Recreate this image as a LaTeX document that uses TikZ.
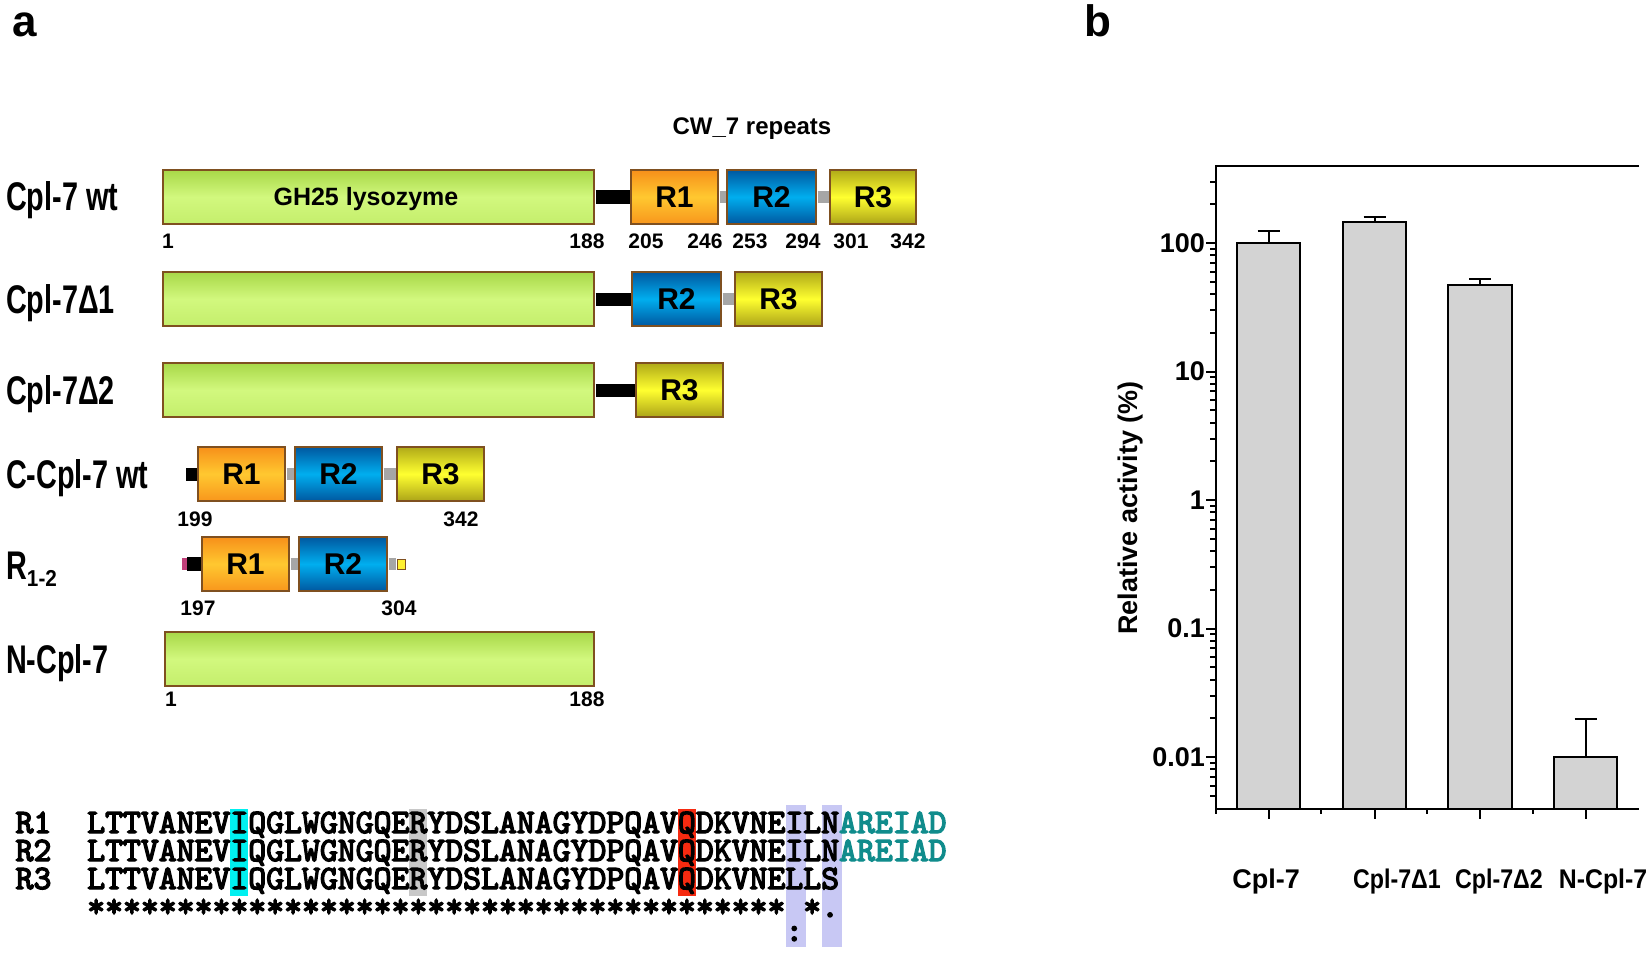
\documentclass[tikz,border=0pt]{standalone}
\usepackage{fontspec}
\setmainfont{Liberation Sans}
\newfontfamily\seqfont[Extension=.otf, FakeBold=4]{lmmono10-regular}
\usepackage{graphicx}
\definecolor{brd}{HTML}{7F5020}
\definecolor{gT}{HTML}{A8D848}
\definecolor{gM}{HTML}{D2F87E}
\definecolor{gB}{HTML}{C4EE6C}
\definecolor{oT}{HTML}{F7901A}
\definecolor{oM}{HTML}{FFC830}
\definecolor{oB}{HTML}{F8961C}
\definecolor{bT}{HTML}{0058A0}
\definecolor{bM}{HTML}{00AEEF}
\definecolor{bB}{HTML}{0058A0}
\definecolor{yT}{HTML}{B0AA18}
\definecolor{yM}{HTML}{FFFF30}
\definecolor{yB}{HTML}{ACA418}
\definecolor{lnkgray}{HTML}{A6A6A6}
\definecolor{pinkc}{HTML}{C0407A}
\definecolor{hcyan}{HTML}{00F0F0}
\definecolor{hgray}{HTML}{C8C8C8}
\definecolor{hred}{HTML}{F62A10}
\definecolor{hlav}{HTML}{C8C8F4}
\definecolor{tealc}{HTML}{108C8C}
\definecolor{barg}{HTML}{D3D3D3}
\definecolor{sqy}{HTML}{FFF030}
\newcommand\lblfont{\fontsize{40}{40}\selectfont\bfseries}
\newcommand\lbl[1]{\scalebox{0.72}[1]{\lblfont #1}}
\newcommand\dbox[6]{\node[#1, minimum width={#4-#3}] (#2) at ({(#3+#4)/2},#5) {#6};}
\begin{document}
\begin{tikzpicture}[x=1pt,y=-1pt,
  dom/.style={draw=brd, line width=1.5pt, minimum height=54, inner sep=0, shading=axis, font=\fontsize{30}{30}\selectfont\bfseries},
  gbox/.style={dom, top color=gT, bottom color=gB, middle color=gM},
  obox/.style={dom, top color=oT, bottom color=oB, middle color=oM},
  bbox/.style={dom, top color=bT, bottom color=bB, middle color=bM},
  ybox/.style={dom, top color=yT, bottom color=yB, middle color=yM},
  blk/.style={line width=13pt, black, shorten <=0.75pt, shorten >=0.75pt},
  gry/.style={line width=12pt, lnkgray, shorten <=0.75pt, shorten >=0.75pt},
  num/.style={font=\fontsize{21}{21}\selectfont\bfseries, inner sep=0, anchor=base},
  lab/.style={inner sep=0, anchor=base west},
  seq/.style={font=\fontsize{34.1}{34.1}\selectfont\seqfont, inner sep=0, anchor=base west},
  ax/.style={line width=2.5pt, line join=miter},
  barst/.style={draw=black, line width=2pt, fill=barg},
  err/.style={line width=2pt},
  tl/.style={font=\fontsize{27}{27}\selectfont\bfseries, inner sep=0, anchor=east},
  xl/.style={font=\fontsize{27}{27}\selectfont\bfseries, inner sep=0, anchor=base},
]
\useasboundingbox (0,0) rectangle (1650,955);
% panel labels
\node[font=\fontsize{44}{44}\selectfont\bfseries, inner sep=0, anchor=base west] (pa) at (12,37) {a};
\node[font=\fontsize{44}{44}\selectfont\bfseries, inner sep=0, anchor=base west] (pb) at (1084,37) {b};
% ---------- row 1
\node[font=\fontsize{24}{24}\selectfont\bfseries, inner sep=0, anchor=base] (cw) at (752,135) {CW\_7 repeats};
\dbox{gbox}{w1g}{163}{594}{197}{}
\dbox{obox}{w1a}{631}{718}{197}{R1}
\dbox{bbox}{w1b}{727}{816}{197}{R2}
\dbox{ybox}{w1c}{830}{916}{197}{R3}
\draw[blk] (w1g.east) -- (w1a.west);
\draw[gry] (w1a.east) -- (w1b.west);
\draw[gry] (w1b.east) -- (w1c.west);
\node[font=\fontsize{25}{25}\selectfont\bfseries, inner sep=0, anchor=base] (ghl) at (366,205) {GH25 lysozyme};
\node[num] (n11) at (168,248) {1};
\node[num] (n12) at (587,248) {188};
\node[num] (n13) at (646,248) {205};
\node[num] (n14) at (705,248) {246};
\node[num] (n15) at (750,248) {253};
\node[num] (n16) at (803,248) {294};
\node[num] (n17) at (851,248) {301};
\node[num] (n18) at (908,248) {342};
\node[lab] (l1) at (6,211) {\lbl{Cpl-7 wt}};
% ---------- row 2
\dbox{gbox}{d1g}{163}{594}{299}{}
\dbox{bbox}{d1b}{632}{721}{299}{R2}
\dbox{ybox}{d1c}{735}{822}{299}{R3}
\draw[blk] (d1g.east) -- (d1b.west);
\draw[gry] (d1b.east) -- (d1c.west);
\node[lab] (l2) at (6,313) {\lbl{Cpl-7Δ1}};
% ---------- row 3
\dbox{gbox}{d2g}{163}{594}{390}{}
\dbox{ybox}{d2c}{636}{723}{390}{R3}
\draw[blk] (d2g.east) -- (d2c.west);
\node[lab] (l3) at (6,404) {\lbl{Cpl-7Δ2}};
% ---------- row 4
\coordinate (c4s) at (186,474);
\dbox{obox}{c4a}{198}{285}{474}{R1}
\dbox{bbox}{c4b}{295}{382}{474}{R2}
\dbox{ybox}{c4c}{397}{484}{474}{R3}
\draw[line width=13pt, black, shorten >=0.75pt] (c4s) -- (c4a.west);
\draw[gry] (c4a.east) -- (c4b.west);
\draw[gry] (c4b.east) -- (c4c.west);
\node[num] (n41) at (195,526) {199};
\node[num] (n42) at (461,526) {342};
\node[lab] (l4) at (6,488) {\lbl{C-Cpl-7 wt}};
% ---------- row 5
\coordinate (r5p) at (182,564);
\coordinate (r5q) at (187,564);
\dbox{obox}{r5a}{202}{289}{564}{R1}
\dbox{bbox}{r5b}{299}{387}{564}{R2}
\node[draw=brd, line width=1pt, fill=sqy, minimum width=8, minimum height=10, inner sep=0] (r5y) at (401,564) {};
\draw[line width=12pt, pinkc] (r5p) -- (r5q);
\draw[line width=14pt, black, shorten >=0.75pt] (r5q) -- (r5a.west);
\draw[gry] (r5a.east) -- (r5b.west);
\draw[gry, shorten >=0.5pt] (r5b.east) -- (r5y.west);
\node[num] (n51) at (198,615) {197};
\node[num] (n52) at (399,615) {304};
\node[lab] (l5) at (6,579) {\lbl{R}\raisebox{-7pt}{\scalebox{0.9}[1]{\fontsize{23}{23}\selectfont\bfseries 1-2}}};
% ---------- row 6
\dbox{gbox}{ncg}{165}{594}{659}{}
\node[num] (n61) at (171,706) {1};
\node[num] (n62) at (587,706) {188};
\node[lab] (l6) at (6,673) {\lbl{N-Cpl-7}};
% ---------- alignment
\fill[hcyan] (230,809) rectangle (248,896);
\fill[hgray] (409,809) rectangle (427,896);
\fill[hred] (677.5,809) rectangle (695.5,896);
\fill[hlav] (786,805) rectangle (806,947);
\fill[hlav] (822,805) rectangle (842,947);
\node[seq] (s1l) at (15.4,833) {R1};
\node[seq] (s1) at (87,833) {LTTVANEVIQGLWGNGQERYDSLANAGYDPQAVQDKVNEILN\textcolor{tealc}{AREIAD}};
\node[seq] (s2l) at (15.4,861) {R2};
\node[seq] (s2) at (87,861) {LTTVANEVIQGLWGNGQERYDSLANAGYDPQAVQDKVNEILN\textcolor{tealc}{AREIAD}};
\node[seq] (s3l) at (15.4,889) {R3};
\node[seq] (s3) at (87,889) {LTTVANEVIQGLWGNGQERYDSLANAGYDPQAVQDKVNELLS};
\node[seq] (st1) at (87,917) {***************************************};
\node[seq] (st2) at (803,917) {*.};
\node[seq] (col) at (785.1,941) {:};
% ---------- chart
\foreach \xl/\xr/\yt/\yc in {1237/1300/243/231, 1343/1406/222/217, 1448/1512/285/279, 1554/1617/757/719}{
  \draw[err] ({(\xl+\xr)/2},\yt) -- ({(\xl+\xr)/2},\yc);
  \draw[err] ({(\xl+\xr)/2-11},\yc) -- ({(\xl+\xr)/2+11},\yc);
  \draw[barst] (\xl,809) rectangle (\xr,\yt);
}
\draw[ax] (1639,166) -- (1216,166) -- (1216,809) -- (1639,809);
\foreach \v/\t in {243/100, 371.5/10, 500/1, 628.5/0.1, 757/0.01}{
  \draw[line width=2pt] (1216,\v) -- ++(-10,0);
  \node[tl] at (1205,\v) {\t};
}
\foreach \e in {-3,-2,-1,0,1,2}{
  \foreach \k in {2,...,9}{
    \pgfmathsetmacro\yy{243-128.5*(\e+log10(\k)-2)}
    \pgfmathtruncatemacro\ok{(\yy>168)&&(\yy<806)}
    \ifnum\ok=1 \draw[line width=2pt] (1216,\yy) -- ++(-6,0);\fi
  }
}
\foreach \xx in {1268.5,1374.5,1480,1585.5}{\draw[line width=2pt] (\xx,809) -- ++(0,10);}
\foreach \xx in {1216,1321,1427,1533}{\draw[line width=2pt] (\xx,809) -- ++(0,5);}
\node[xl] (x1) at (1266,888) {Cpl-7};
\node[xl] (x2) at (1397,888) {\scalebox{0.86}[1]{Cpl-7Δ1}};
\node[xl] (x3) at (1499,888) {\scalebox{0.86}[1]{Cpl-7Δ2}};
\node[xl] (x4) at (1603,888) {\scalebox{0.92}[1]{N-Cpl-7}};
\node[rotate=90, font=\fontsize{27}{27}\selectfont\bfseries, inner sep=0] (yl) at (1131,508) {Relative activity (\%)};
\end{tikzpicture}
\end{document}
